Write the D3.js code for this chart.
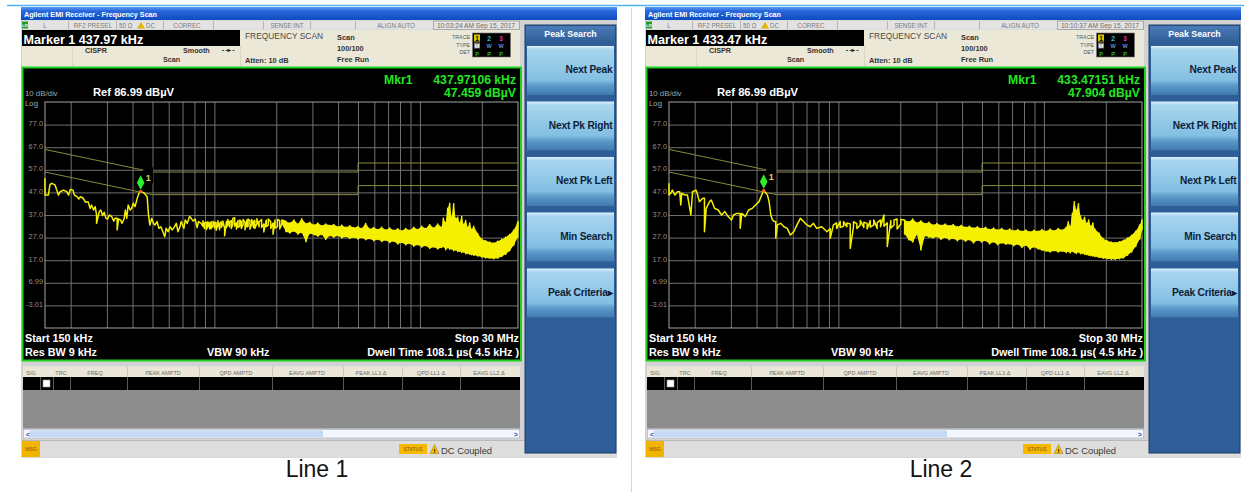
<!DOCTYPE html>
<html><head><meta charset="utf-8">
<script src="https://cdn.jsdelivr.net/npm/d3@7"></script>
<style>
body{margin:0;background:#fff}
svg{display:block}
text{font-family:"Liberation Sans",Arial,sans-serif}
</style></head>
<body><svg id="c" width="1244" height="493"></svg>
<script>
// ---------------- DATA ----------------
const refLevel = 86.99;               // dBµV, top of screen
const dbPerDiv = 10;
const startKHz = 150, stopKHz = 30000;
const freqGrid = [200,300,400,500,600,700,800,900,1000,2000,3000,4000,5000,6000,7000,8000,9000,10000,20000];
const levelTicks = [76.99,66.99,56.99,46.99,36.99,26.99,16.99,6.99,-3.01];
const levelLabels = ["77.0","67.0","57.0","47.0","37.0","27.0","17.0","6.99","-3.01"];
// CISPR limit lines (kHz, dBµV)
const limitFreq = [150, 500, 5000, 5000, 30000];
const limitQp   = [66, 56, 56, 60, 60];
const limitAv   = [56, 46, 46, 50, 50];

// trace buckets: [freq kHz, first level, second level] (dBµV)
const line1Trace = [
[150,53.2,45.8],[155.7,45.8,45.8],[158.5,50.3,50.3],[161.5,51.0,51.0],[167.9,50.3,50.3],[171.1,48.0,48.0],
[174.3,45.8,45.8],[177.7,47.3,47.3],[184.5,48.0,48.0],[191.6,47.3,47.3],[195.3,45.8,45.8],[199.1,48.3,48.3],
[205.3,48.0,48.0],[208.5,45.8,45.8],[214.9,45.1,45.1],[219.0,44.1,44.1],[223.2,45.1,45.1],[230.0,44.4,44.4],
[236.3,42.6,42.6],[242.9,42.9,42.9],[248.6,39.9,39.9],[252.5,41.4,41.4],[258.3,39.2,39.2],[263.2,40.7,40.7],
[267.2,37.0,33.3],[275.5,38.5,38.5],[280.4,39.2,39.2],[285.7,36.7,36.7],[291.0,38.2,38.2],[296.8,35.5,35.5],
[302.5,35.2,35.2],[308.4,37.0,37.0],[316.6,36.3,36.3],[323.9,34.3,34.3],[328.9,35.5,35.5],[336.6,35.5,30.4],
[341.8,35.2,35.2],[349.7,34.8,34.8],[355.1,33.3,33.3],[363.5,35.2,35.2],[369.2,39.2,39.2],[374.9,35.5,35.5],
[380.8,41.4,41.4],[389.6,39.2,39.2],[395.7,39.9,39.9],[403.3,42.2,42.2],[411.1,40.7,40.7],[417.4,42.9,42.9],
[423.8,45.1,45.1],[430.2,46.6,46.6],[437.97,47.46,47.46],[451.9,46.9,46.9],[464.0,45.8,45.8],[471.0,45.1,45.1],
[478.1,37.0,37.0],[485.3,32.6,32.6],[496.0,35.5,35.5],[505.1,33.3,33.3],[514.4,32.6,32.6],[525.8,34.1,34.1],
[537.5,31.1,31.1],[549.5,31.8,31.8],[561.7,29.6,29.6],[574.2,27.4,27.4],[582.8,31.1,31.1],[595.8,29.6,29.6],
[609.0,31.8,31.8],[622.6,30.4,30.4],[636.4,31.4,31.4],[653.0,33.3,33.3],[665.0,29.6,29.6],[680.0,31.8,31.8],
[690.2,34.1,34.1],[711.0,31.1,31.1],[721.6,34.8,34.8],[737.8,33.3,33.3],[757.5,36.3,36.3],[771.6,35.5,35.5],
[788.9,34.3,34.3],[806.6,35.2,35.2],[824.6,31.4,31.4],[836.8,34.1,34.1],[862.3,33.3,33.3],
[880,32.0,34.5],[895,31.0,33.5],[915,33.8,30.6],[930,32.2,34.0],[950,30.8,33.5],[965,34.0,31.0],
[985,32.5,34.2],[1002,31.2,33.8],[1020,33.6,30.2],[1040,32.8,34.5],[1060,30.5,33.2],[1080,34.0,31.5],
[1100,33.0,34.3],[1122,31.0,27.8],[1145,34.2,31.5],[1164,33.0,35.0],[1185,31.8,34.0],[1209,34.5,31.0],
[1230,33.0,35.5],[1255,35.8,32.0],[1280,33.5,30.8],[1303,34.6,31.5],[1330,32.0,34.8],[1353,34.2,31.0],
[1380,32.8,35.0],[1410,33.6,30.5],[1440,34.8,31.8],[1459,32.0,35.2],[1490,34.5,30.8],[1520,33.0,35.0],
[1550,31.5,34.2],[1574,34.6,31.0],[1610,33.2,35.3],[1650,31.8,34.0],[1697,35.0,31.5],[1740,33.0,29.5],
[1790,34.8,31.8],[1830,32.5,35.2],[1880,34.0,31.0],[1930,33.4,28.5],[1974,34.8,31.2],[2030,32.0,35.0],
[2080,34.5,30.8],[2129,33.0,34.8],
[2230,34.1,29.6],[2330,33.5,29.0],[2440,34.8,29.8],[2550,33.0,28.5],[2660,35.3,29.2],[2790,33.2,25.2],
[2910,33.8,28.8],[3050,32.6,28.2],[3190,33.4,27.6],[3330,32.2,28.4],[3480,33.0,26.2],[3640,32.4,27.8],
[3810,32.8,27.2],[3990,31.8,27.8],[4170,32.5,26.8],[4360,31.6,27.4],[4560,32.2,26.6],[4770,31.4,27.0],
[4990,31.9,26.4],[5210,31.0,26.9],[5450,33.2,26.0],[5700,30.8,26.5],[5960,31.5,25.6],[6240,30.6,26.2],
[6520,31.6,25.3],[6820,30.4,25.8],[7130,31.2,24.8],[7460,30.2,25.4],[7800,30.9,24.2],[8160,30.0,24.8],
[8530,31.0,23.8],[8920,30.2,24.4],[9330,31.6,23.2],[9760,30.6,23.8],[10200,32.0,22.8],[10670,31.0,23.4],
[11160,32.8,22.2],[11670,31.2,22.8],[12200,33.0,22.0],[12760,31.6,22.6],[13000,35.5,23.0],[13350,33.6,21.6],
[13650,40.0,22.5],[13960,42.2,21.8],[14250,36.0,22.0],[14600,42.0,21.2],[14900,35.5,21.5],[15270,36.0,20.8],
[15600,33.5,21.0],[15970,36.3,20.4],[16300,32.8,20.6],[16700,34.6,19.8],[17100,31.5,20.0],[17460,33.4,19.6],
[17850,30.6,19.4],[18260,32.0,19.2],[19100,28.8,18.8],[19970,26.4,18.4],[20890,25.6,18.0],[21840,25.0,17.8],
[22840,24.6,17.6],[23890,25.4,17.8],[24980,26.2,18.6],[26130,27.2,19.6],[27330,28.4,21.2],[28580,30.2,23.6],
[29890,33.6,27.0],[30000,34.1,30.5]
];
const line2Trace = [
[150,51.0,45.8],[152.8,46.6,46.6],[155.7,48.0,48.0],[160.3,45.8,45.8],[164.8,47.3,47.3],[169.2,47.3,47.3],
[171.1,41.4,41.4],[173.0,46.6,46.6],[179.6,45.8,45.8],[184.5,45.8,45.8],[188.1,41.4,41.4],[191.6,37.0,37.0],
[195.3,47.3,47.3],[202.9,48.0,48.0],[206.9,45.8,45.8],[210.8,42.9,42.9],[219.0,44.4,44.4],[223.2,44.4,29.6],
[227.6,39.9,39.9],[236.3,42.9,42.9],[240.9,43.6,43.6],[250.2,39.9,39.9],[260.2,39.2,39.2],[270.3,37.0,37.0],
[280.4,38.5,38.5],[291.0,36.3,36.3],[302.5,34.8,34.8],[308.4,37.0,37.0],[320.2,37.7,37.7],[333.0,37.7,31.1],
[339.2,37.7,37.7],[352.2,36.3,36.3],[366.3,39.2,39.2],[380.8,39.9,39.9],[395.7,41.4,41.4],[411.1,42.9,42.9],
[427.0,46.6,46.6],[433.47,47.9,47.9],[451.9,45.8,45.8],[460.3,42.9,42.9],[469.3,37.0,37.0],[478.1,34.8,34.8],
[487.1,34.1,34.1],[496.0,34.1,26.7],[505.1,32.6,32.6],[524.0,33.3,33.3],[543.4,31.8,31.8],[563.8,31.1,31.1],
[584.8,28.1,28.1],[606.7,29.6,29.6],[629.3,32.6,32.6],[653.0,35.5,35.5],[677.4,34.1,34.1],[702.8,32.6,32.6],
[729.0,31.8,31.8],[756.5,33.3,33.3],[784.5,31.1,31.1],[830.7,31.8,31.8],[879.6,29.6,29.6],[912.4,31.0,26.7],
[946.4,32.6,32.6],[980,33.5,31.0],[1021,34.1,31.5],[1060,32.0,34.0],[1100,31.8,33.5],[1142,33.0,22.2],
[1185,31.8,34.0],[1230,33.2,31.0],[1278,32.6,34.6],[1330,31.5,33.8],[1379,33.3,30.8],[1430,34.5,31.6],
[1487,32.6,34.8],[1545,31.0,33.6],[1604,34.8,31.8],[1666,37.0,32.0],[1729,33.5,23.0],[1800,34.6,31.2],
[1865,32.6,34.8],[1930,35.2,30.8],[2013,33.0,35.0],
[2100,34.8,28.6],[2200,34.0,26.0],[2300,35.2,25.0],[2410,33.6,28.4],[2520,34.4,21.5],[2640,33.2,27.8],
[2760,33.8,27.2],[2890,32.6,26.8],[3020,33.2,27.4],[3160,32.4,26.2],[3310,33.0,27.0],[3460,32.2,26.0],
[3620,32.8,26.6],[3790,31.8,25.6],[3960,32.4,26.4],[4150,31.6,25.4],[4340,32.0,26.0],[4540,31.2,24.6],
[4750,31.8,25.8],[4970,31.0,25.0],[5200,31.6,25.6],[5440,30.6,24.2],[5690,31.2,25.0],[5950,30.4,23.8],
[6230,31.0,24.6],[6520,30.2,24.0],[6820,30.8,24.2],[7130,30.0,23.4],[7460,30.6,24.0],[7810,29.8,22.6],
[8170,30.4,23.6],[8550,29.6,21.8],[8940,30.2,22.8],[9360,29.8,22.0],[9790,30.6,21.4],[10240,29.8,21.0],
[10720,30.8,20.6],[11210,30.0,21.2],[11730,31.0,20.6],[12270,30.4,21.0],[12840,31.6,20.4],[13140,34.0,20.8],
[13440,31.8,20.2],[13750,37.6,21.0],[14060,42.9,20.4],[14380,39.0,20.0],[14720,42.0,20.6],[15060,36.5,19.8],
[15410,34.6,20.0],[15770,36.0,19.6],[16140,33.2,19.4],[16510,34.8,19.2],[16900,32.0,19.0],[17290,33.4,18.8],
[17690,30.8,18.6],[18530,29.0,18.2],[19390,26.6,17.8],[20300,25.6,17.6],[21250,25.0,17.4],[22240,24.8,17.4],
[23280,25.2,17.6],[24370,25.8,18.0],[25510,26.8,19.2],[26700,28.0,20.6],[27950,29.8,23.0],[29250,32.6,26.4],
[30000,34.8,30.4]
];
const captions = ["Line 1", "Line 2"];
const markerTitles = ["Marker 1 437.97 kHz", "Marker 1 433.47 kHz"];
const timeStamps = ["10:03:24 AM Sep 15, 2017", "10:10:37 AM Sep 15, 2017"];
const markerFreqKHz = [437.97106, 433.47151];
const markerLevel = [47.459, 47.904];
const markerFreqText = ["437.97106 kHz", "433.47151 kHz"];
const markerLevelText = ["47.459 dBµV", "47.904 dBµV"];
const softkeys = ["Next Peak", "Next Pk Right", "Next Pk Left", "Min Search", "Peak Criteria"];
const tableHeaders = [["SIG",31],["TRC",61],["FREQ",95],["PEAK AMPTD",163],["QPD AMPTD",236],["EAVG AMPTD",307],["PEAK LL1 \u0394",371],["QPD LL1 \u0394",431],["EAVG LL2 \u0394",489]];
const statusItems = [["L",45],["RF2 PRESEL",93],["CORREC",187],["SENSE:INT",287],["ALIGN AUTO",396]];

// ---------------- DRAW ----------------
const svg = d3.select("#c");
const defs = svg.append("defs");
function grad(id, stops){
  const lg = defs.append("linearGradient").attr("id", id).attr("x1",0).attr("y1",0).attr("x2",0).attr("y2",1);
  stops.forEach(s => lg.append("stop").attr("offset", s[0]).attr("stop-color", s[1]));
}
grad("tb", [["0%","#5a9cf2"],["30%","#2868dc"],["100%","#0c4cc0"]]);
grad("btn", [["0%","#dff4ff"],["7%","#a8d6ef"],["70%","#82bfe2"],["80%","#5d9bcb"],["100%","#3f79ae"]]);
grad("hdr", [["0%","#4a7cb8"],["100%","#2d5b94"]]);

svg.append("rect").attr("width",1244).attr("height",493).attr("fill","#fff");
svg.append("line").attr("x1",7).attr("x2",1244).attr("y1",5.5).attr("y2",5.5).attr("stroke","#4fb0ee").attr("stroke-width",1.6);
svg.append("line").attr("x1",631.5).attr("x2",631.5).attr("y1",8).attr("y2",492).attr("stroke","#d6d6d6").attr("stroke-width",1);

function T(g, x, y, s, size, fill, opts){
  opts = opts || {};
  return g.append("text").attr("x",x).attr("y",y).text(s).attr("font-size",size).attr("fill",fill)
    .attr("font-weight", opts.bold ? "bold" : "normal").attr("text-anchor", opts.anchor || "start");
}

function panel(i, ox){
  const g = svg.append("g").attr("transform", `translate(${ox},0)`);
  const trace = i === 0 ? line1Trace : line2Trace;
  // window
  g.append("rect").attr("x",21).attr("y",7).attr("width",596).attr("height",451).attr("fill","#d3d3d3");
  g.append("rect").attr("x",21).attr("y",7).attr("width",596).attr("height",13).attr("fill","url(#tb)");
  T(g, 24, 16.5, "Agilent EMI Receiver  -  Frequency Scan", 7.2, "#fff", {bold:true});
  // status row
  g.append("rect").attr("x",22).attr("y",20.5).attr("width",498).attr("height",9).attr("fill","#e3e3e3");
  [68,116,163,213,263,310,355,433].forEach(sx => g.append("line").attr("x1",sx+0.5).attr("x2",sx+0.5).attr("y1",21).attr("y2",29.5).attr("stroke","#b4b4b4"));
  g.append("rect").attr("x",22).attr("y",21.5).attr("width",6).attr("height",7).attr("fill","#2a9a2a");
  T(g, 25, 27, "LXI", 3.5, "#fff", {anchor:"middle", bold:true});
  statusItems.forEach(s => T(g, s[1], 27.5, s[0], 6.3, "#7c7c7c", {anchor:"middle"}));
  T(g, 119, 27.5, "50 \u03a9", 6.3, "#7c7c7c");
  g.append("path").attr("d","M141,22 L145,28.5 L137,28.5 Z").attr("fill","#e3b400");
  T(g, 146, 27.5, "DC", 6.3, "#7c7c7c");
  T(g, 476, 27.5, timeStamps[i], 6.6, "#6c6c6c", {anchor:"middle"});
  g.append("rect").attr("x",433.5).attr("y",21).attr("width",86).attr("height",8.5).attr("fill","none").attr("stroke","#a8a8a8");
  // info area
  g.append("rect").attr("x",22).attr("y",30).attr("width",498).attr("height",37).attr("fill","#ece8d8");
  g.append("rect").attr("x",22).attr("y",30).attr("width",218).attr("height",16).attr("fill","#000");
  T(g, 23.5, 43.5, markerTitles[i], 12.6, "#fff", {bold:true});
  g.append("line").attr("x1",72.5).attr("x2",72.5).attr("y1",47).attr("y2",66).attr("stroke","#d9d5c5");
  g.append("line").attr("x1",240.5).attr("x2",240.5).attr("y1",46).attr("y2",66).attr("stroke","#d9d5c5");
  T(g, 85, 53, "CISPR", 7.2, "#333", {bold:true});
  T(g, 183, 53, "Smooth", 7.2, "#333", {bold:true});
  T(g, 163, 61.5, "Scan", 7.2, "#333", {bold:true});
  g.append("line").attr("x1",222).attr("x2",235).attr("y1",50.5).attr("y2",50.5).attr("stroke","#444").attr("stroke-dasharray","2,1.5");
  g.append("circle").attr("cx",228.5).attr("cy",50.5).attr("r",1.4).attr("fill","#333");
  T(g, 245, 39, "FREQUENCY SCAN", 8.4, "#4a4a4a");
  T(g, 245, 63, "Atten: 10 dB", 7.4, "#333", {bold:true});
  T(g, 337, 40, "Scan", 7.4, "#333", {bold:true});
  T(g, 337, 50.5, "100/100", 7.4, "#333", {bold:true});
  T(g, 337, 61.5, "Free Run", 7.4, "#333", {bold:true});
  T(g, 470, 39, "TRACE", 5.3, "#555", {anchor:"end"});
  T(g, 470, 46.5, "TYPE", 5.3, "#555", {anchor:"end"});
  T(g, 470, 54, "DET", 5.3, "#555", {anchor:"end"});
  g.append("rect").attr("x",472.5).attr("y",33).attr("width",38).attr("height",24).attr("fill","#000").attr("stroke","#777").attr("stroke-width",0.6);
  g.append("rect").attr("x",474).attr("y",34.5).attr("width",6).attr("height",7).attr("fill","#d8c800");
  T(g, 477, 40.5, "1", 6.5, "#000", {anchor:"middle", bold:true});
  T(g, 489, 40.5, "2", 6.5, "#26c6e8", {anchor:"middle", bold:true});
  T(g, 501, 40.5, "3", 6.5, "#d040d0", {anchor:"middle", bold:true});
  g.append("rect").attr("x",474).attr("y",42.5).attr("width",6).attr("height",6).attr("fill","#7a7a7a");
  T(g, 477, 48, "M", 5.5, "#fff", {anchor:"middle", bold:true});
  T(g, 489, 48, "W", 5.5, "#6a8ac8", {anchor:"middle", bold:true});
  T(g, 501, 48, "W", 5.5, "#6a8ac8", {anchor:"middle", bold:true});
  [477,489,501].forEach(px => T(g, px, 55.5, "P", 5.5, "#22c022", {anchor:"middle", bold:true}));

  // screen
  g.append("rect").attr("x",22.5).attr("y",67.5).attr("width",498.5).attr("height",293).attr("fill","#000").attr("stroke","#1ed21e").attr("stroke-width",2);
  const x = d3.scaleLog().domain([startKHz, stopKHz]).range([45, 518]);
  const y = d3.scaleLinear().domain([refLevel - 10*dbPerDiv, refLevel]).range([328, 102]);
  // vertical grid
  const gx = g.append("g").attr("transform","translate(0,328)")
    .call(d3.axisBottom(x).tickValues(freqGrid).tickSize(-226).tickFormat(""));
  gx.select(".domain").remove();
  gx.selectAll("line").attr("stroke","#707070");
  // horizontal grid + labels
  const gy = g.append("g").attr("transform","translate(45,0)")
    .call(d3.axisLeft(y).tickValues(levelTicks).tickSize(-473).tickPadding(2).tickFormat((d,k) => levelLabels[k]));
  gy.select(".domain").remove();
  gy.selectAll("line").attr("stroke","#707070");
  gy.selectAll("text").attr("fill","#8e8e8e").attr("font-size",7.4).attr("font-family","Liberation Sans, Arial, sans-serif").attr("dy","0.15em");
  g.append("rect").attr("x",45).attr("y",102).attr("width",473).attr("height",226).attr("fill","none").attr("stroke","#a4a4a4");
  T(g, 25, 95.5, "10 dB/div", 7.8, "#a8a8a8");
  T(g, 25, 106, "Log", 7.8, "#a8a8a8");
  T(g, 93, 95.5, "Ref 86.99 dB\u00b5V", 11.2, "#fff", {bold:true});
  T(g, 516, 83.5, markerFreqText[i], 12.2, "#22e622", {bold:true, anchor:"end"});
  T(g, 384, 83.5, "Mkr1", 12.2, "#22e622", {bold:true});
  T(g, 516, 97, markerLevelText[i], 12.2, "#22e622", {bold:true, anchor:"end"});
  // limit lines
  const lim = d3.line().x(d => x(d[0])).y(d => y(d[1]));
  [limitQp, limitAv].forEach(arr => {
    g.append("path").attr("d", lim(limitFreq.map((f,k) => [f, arr[k]]))).attr("fill","none").attr("stroke","#8c8a3c").attr("stroke-width",1);
  });
  // trace
  const band = trace.filter(d => d[0] >= 2100);
  g.append("path").attr("d", d3.area().x(d => x(d[0])).y0(d => y(Math.min(d[1],d[2]))).y1(d => y(Math.max(d[1],d[2])))(band))
    .attr("fill","#f4f000");
  const pts = [];
  trace.forEach(d => { pts.push([x(d[0]), y(d[1])]); pts.push([x(d[0]), y(d[2])]); });
  g.append("path").attr("d", d3.line()(pts)).attr("fill","none").attr("stroke","#f4f000").attr("stroke-width",1.5).attr("stroke-linejoin","round");
  // marker
  const mx = x(markerFreqKHz[i]), my = y(markerLevel[i]);
  g.append("rect").attr("x",mx+2.5).attr("y",my-24).attr("width",10).attr("height",16).attr("fill","#000");
  T(g, mx+5, my-10, "1", 9, "#e4d35a", {bold:true});
  g.append("circle").attr("cx",mx).attr("cy",my).attr("r",1.6).attr("fill","#ff5a1e");
  g.append("path").attr("d",`M${mx},${my-16} L${mx+3.8},${my-8.5} L${mx},${my-1.5} L${mx-3.8},${my-8.5} Z`).attr("fill","#2cee2c");
  // bottom annotations
  T(g, 25, 342, "Start 150 kHz", 10.8, "#fff", {bold:true});
  T(g, 25, 356, "Res BW 9 kHz", 10.8, "#fff", {bold:true});
  T(g, 207, 356, "VBW 90 kHz", 10.8, "#fff", {bold:true});
  T(g, 519, 342, "Stop 30 MHz", 10.8, "#fff", {bold:true, anchor:"end"});
  T(g, 519, 356, "Dwell Time 108.1 \u00b5s( 4.5 kHz )", 10.8, "#fff", {bold:true, anchor:"end"});

  // table
  g.append("rect").attr("x",23).attr("y",366.5).attr("width",497).attr("height",10.5).attr("fill","#ebe7d8");
  [127,199,272,343,402,460].forEach(sx => g.append("line").attr("x1",sx+0.5).attr("x2",sx+0.5).attr("y1",367).attr("y2",377).attr("stroke","#c9c5b6"));
  tableHeaders.forEach(h => T(g, h[1], 374.5, h[0], 5.6, "#6a6a6a", {anchor:"middle"}));
  g.append("rect").attr("x",23).attr("y",377).attr("width",497).attr("height",13).attr("fill","#000");
  [40,53,70,127,199,272,343,402,460].forEach(sx => g.append("line").attr("x1",sx+0.5).attr("x2",sx+0.5).attr("y1",377).attr("y2",390).attr("stroke","#5a5a5a"));
  g.append("rect").attr("x",43).attr("y",380).attr("width",7).attr("height",7).attr("fill","#fff").attr("stroke","#999").attr("stroke-width",0.6);
  g.append("rect").attr("x",23).attr("y",390).attr("width",497).attr("height",38.5).attr("fill","#8d8d8d");
  g.append("rect").attr("x",23.5).attr("y",429.5).attr("width",496).attr("height",8.5).attr("fill","#f3f6fb").attr("stroke","#a9b3c6").attr("stroke-width",0.6);
  g.append("rect").attr("x",30).attr("y",430.5).attr("width",293).attr("height",6.5).attr("fill","#c6d9f4");
  T(g, 26, 436.5, "<", 6.5, "#2a5cc0", {bold:true});
  T(g, 514, 436.5, ">", 6.5, "#2a5cc0", {bold:true});
  // message bar
  g.append("rect").attr("x",22).attr("y",440.5).attr("width",595).attr("height",17).attr("fill","#dddddd");
  g.append("line").attr("x1",22).attr("x2",617).attr("y1",440.5).attr("y2",440.5).attr("stroke","#b9b9b9");
  g.append("rect").attr("x",22).attr("y",441).attr("width",18).attr("height",16).attr("fill","#f2b400");
  T(g, 31, 451, "MSG", 5, "#8a5200", {anchor:"middle"});
  g.append("rect").attr("x",399).attr("y",444).attr("width",28).attr("height",10).attr("fill","#f6b800");
  T(g, 413, 451.3, "STATUS", 5, "#8a5200", {anchor:"middle"});
  g.append("path").attr("d","M434.5,444.5 L439,453.5 L430,453.5 Z").attr("fill","#f0c000").attr("stroke","#8a6a00").attr("stroke-width",0.4);
  T(g, 434.5, 453, "!", 6, "#000", {anchor:"middle", bold:true});
  T(g, 441, 453.5, "DC Coupled", 9.4, "#3a3a3a");

  // softkey panel
  g.append("rect").attr("x",525).attr("y",25).attr("width",91).attr("height",428).attr("fill","#2e5d97").attr("stroke","#1c3c68");
  g.append("rect").attr("x",526).attr("y",26).attr("width",89).attr("height",18).attr("fill","url(#hdr)");
  T(g, 570.5, 37, "Peak Search", 8.8, "#fff", {bold:true, anchor:"middle"});
  const keyTops = [46, 101.5, 157, 212.5, 268.5];
  softkeys.forEach((k, j) => {
    g.append("rect").attr("x",527).attr("y",keyTops[j]).attr("width",87).attr("height",49).attr("fill","url(#btn)");
    const label = j === 4 ? k + "\u25B8" : k;
    T(g, 612.5, keyTops[j] + 27, label, 10.2, "#0e1e3a", {bold:true, anchor:"end"}).attr("letter-spacing", -0.2);
  });

  // caption
  svg.append("text").attr("x", ox + 317).attr("y", 477).text(captions[i]).attr("font-size", 23)
    .attr("font-family","Lato, 'Open Sans', sans-serif").attr("text-anchor","middle").attr("fill","#111");
}
panel(0, 0);
panel(1, 624);
</script></body></html>
